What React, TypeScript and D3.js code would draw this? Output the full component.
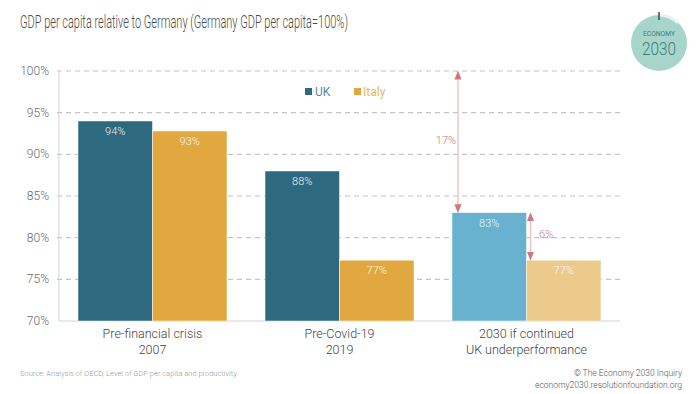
import React from "react";
import * as d3 from "d3";

const categories = ["Pre-financial crisis|2007", "Pre-Covid-19|2019", "2030 if continued|UK underperformance"];
const seriesNames = ["UK", "Italy"];
const ukValues = [94.0, 88.0, 83.0];
const italyValues = [92.8, 77.3, 77.3];
const ukLabels = ["94%", "88%", "83%"];
const italyLabels = ["93%", "77%", "77%"];
const yTicks = [70, 75, 80, 85, 90, 95, 100];

const W = 700, H = 394;
const FONT = "Roboto, 'Liberation Sans', sans-serif";

export default function App() {
  const x0 = d3.scaleBand<string>().domain(categories).range([59, 620]).paddingInner(0).paddingOuter(0);
  const x1 = d3.scaleBand<string>().domain(seriesNames).range([19, x0.bandwidth() - 19]);
  const y = d3.scaleLinear().domain([70, 100]).range([321, 71]);

  const ukColors = ["#2d6a7f", "#2d6a7f", "#69b2cf"];
  const itColors = ["#e0a83f", "#e0a83f", "#ecca8b"];
  const red = "#d2767c";

  const arrowX1 = (x0(categories[2]) as number) + 25;
  const arrowX2 = (x0(categories[2]) as number) + (x1("Italy") as number) + 4;

  return (
    <svg width={W} height={H} style={{ position: "absolute", left: 0, top: 0, background: "#fff" }} fontFamily={FONT}>
      <defs>
        <marker id="ah" viewBox="0 0 10 10" refX="5" refY="5" markerWidth="6" markerHeight="6" orient="auto-start-reverse">
          <path d="M0,1 L10,5 L0,9 z" fill={red} />
        </marker>
      </defs>
      <rect width={W} height={H} fill="#fff" />
      <text x={20} y={28} fontSize={17.5} fill="#4a4a4a" fontWeight={300} textLength={328} lengthAdjust="spacingAndGlyphs">
        GDP per capita relative to Germany (Germany GDP per capita=100%)
      </text>

      {/* logo */}
      <circle cx={659} cy={43} r={28} fill="#a7d5cb" />
      <path d="M659,15 A28,28 0 0,1 678,23" stroke="#e8f4f1" strokeWidth={3} fill="none" />
      <line x1={659} y1={12} x2={659} y2={20} stroke="#444" strokeWidth={1.5} />
      <text x={659} y={36} fontSize={7} textAnchor="middle" fill="#3f7d73" textLength={32} lengthAdjust="spacingAndGlyphs">ECONOMY</text>
      <text x={659} y={55} fontSize={18} textAnchor="middle" fill="#3f7d73" fontWeight={300} textLength={34} lengthAdjust="spacingAndGlyphs">2030</text>

      {/* grid */}
      {yTicks.map((t) => (
        <g key={t}>
          {t !== 70 && (
            <line x1={57} x2={620} y1={y(t)} y2={y(t)} stroke="#c4c4c4" strokeWidth={1.2} strokeDasharray="5,4" />
          )}
          <text x={49} y={y(t) + 4} fontSize={12} textAnchor="end" fill="#6a6a6a" fontWeight={300}>{t}%</text>
        </g>
      ))}
      <line x1={59} x2={59} y1={71} y2={321} stroke="#d4d4d4" strokeWidth={1} />
      <line x1={59} x2={620} y1={321} y2={321} stroke="#d4d4d4" strokeWidth={1} />

      {/* bars */}
      {categories.map((c, i) => {
        const bx = x0(c) as number;
        const ux = bx + (x1("UK") as number);
        const ix = bx + (x1("Italy") as number);
        const bw = x1.bandwidth();
        return (
          <g key={c}>
            <rect x={ux} y={y(ukValues[i])} width={bw} height={y(70) - y(ukValues[i])} fill={ukColors[i]} stroke="#fff" strokeWidth={0.5} />
            <rect x={ix} y={y(italyValues[i])} width={bw} height={y(70) - y(italyValues[i])} fill={itColors[i]} stroke="#fff" strokeWidth={0.5} />
            <text x={ux + bw / 2} y={y(ukValues[i]) + 14} fontSize={11} textAnchor="middle" fill="#fff" fontWeight={300} opacity={0.9}>{ukLabels[i]}</text>
            <text x={ix + bw / 2} y={y(italyValues[i]) + 14} fontSize={11} textAnchor="middle" fill="#fff" fontWeight={300} opacity={0.9}>{italyLabels[i]}</text>
            {c.split("|").map((line, j) => (
              <text key={j} x={bx + x0.bandwidth() / 2} y={338 + j * 16} fontSize={12.5} textAnchor="middle" fill="#444" fontWeight={300}>{line}</text>
            ))}
          </g>
        );
      })}

      {/* legend */}
      <rect x={305} y={88} width={7} height={7} fill="#2d6a7f" />
      <text x={315} y={96} fontSize={12} fill="#4f8aa0">UK</text>
      <rect x={354} y={88} width={7} height={7} fill="#e0a83f" />
      <text x={363} y={96} fontSize={12} fill="#e9b85c">Italy</text>

      {/* arrows */}
      <line x1={arrowX1} x2={arrowX1} y1={y(100) + 4} y2={y(ukValues[2]) - 4} stroke="#edc4c6" strokeWidth={1.5}
        markerStart="url(#ah)" markerEnd="url(#ah)" />
      <text x={446} y={144} fontSize={11} textAnchor="middle" fill={red} fontWeight={300}>17%</text>
      <line x1={arrowX2} x2={arrowX2} y1={y(ukValues[2]) + 4} y2={y(italyValues[2]) - 4} stroke="#edc4c6" strokeWidth={1.5}
        markerStart="url(#ah)" markerEnd="url(#ah)" />
      <text x={546} y={238} fontSize={11} textAnchor="middle" fill={red} fontWeight={300}>6%</text>

      {/* footer */}
      <text x={20} y={376} fontSize={7.5} fill="#9a9a9a" fontWeight={300}>Source: Analysis of OECD, Level of GDP per capita and productivity.</text>
      <text x={682} y={376} fontSize={8.5} textAnchor="end" fill="#555" fontWeight={300}>© The Economy 2030 Inquiry</text>
      <text x={682} y={388} fontSize={8.5} textAnchor="end" fill="#555" fontWeight={300}>economy2030.resolutionfoundation.org</text>
    </svg>
  );
}
